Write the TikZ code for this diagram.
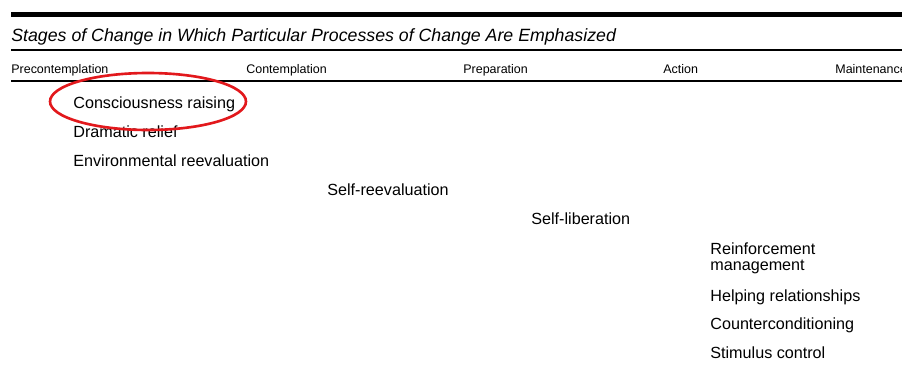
\documentclass[tikz,border=0pt]{standalone}
\usepackage{fontspec}
\setmainfont{Liberation Sans}
\usepackage{tikz}
\definecolor{markred}{RGB}{226,24,28}

\begin{document}
\begin{tikzpicture}[x=0.02cm, y=-0.02cm,
	stage/.style={anchor=base west, inner sep=0pt, font=\fontsize{7.1}{8}\selectfont},
	process/.style={anchor=base west, inner sep=0pt, align=left, font=\fontsize{9.2}{8.8}\selectfont},
	rule/.style={line width=1pt}]
	\useasboundingbox (0,0) rectangle (902,365);
	% Title and rules:
	\fill (11,12) rectangle (902,17);
	\node[anchor=base west, inner sep=0pt, font=\fontsize{10.1}{12}\selectfont\itshape] (title) at (11,41) {Stages of Change in Which Particular Processes of Change Are Emphasized};
	\draw[rule] (11,50) -- (902,50);
	\draw[rule] (11,81) -- (902,81);
	% Stages:
	\node[stage] (precont) at (11,73) {Precontemplation};
	\node[stage] (cont) at (246,73) {Contemplation};
	\node[stage] (prep) at (463,73) {Preparation};
	\node[stage] (action) at (663,73) {Action};
	\node[stage] (maint) at (835,73) {Maintenance};
	% Processes:
	\node[process] (consc) at (73,108) {Consciousness raising};
	\node[process] (drama) at (73,137) {Dramatic relief};
	\node[process] (envir) at (73,166) {Environmental reevaluation};
	\node[process] (selfre) at (327,195) {Self-reevaluation};
	\node[process] (selflib) at (531,224) {Self-liberation};
	\node[process] (reinf) at (710,270) {Reinforcement\\management};
	\node[process] (helping) at (710,301) {Helping relationships};
	\node[process] (counter) at (710,329.5) {Counterconditioning};
	\node[process] (stimulus) at (710,358) {Stimulus control};
	% Marker:
	\draw[markred, line width=1.5pt] (148,101.5) ellipse [x radius=1.96cm, y radius=0.57cm];
\end{tikzpicture}
\end{document}
